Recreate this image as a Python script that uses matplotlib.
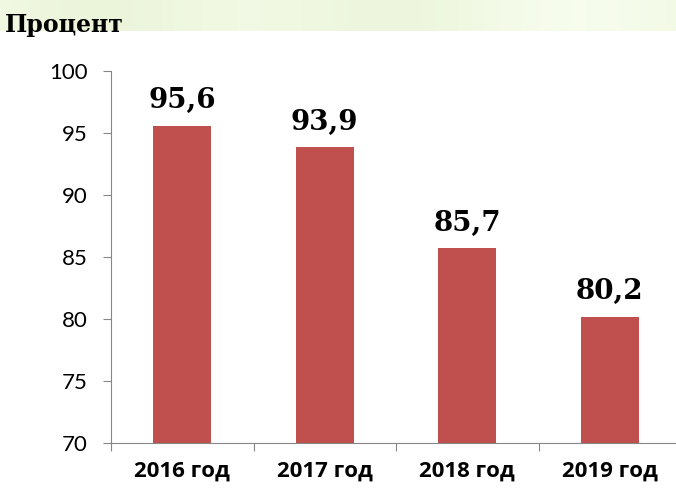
import matplotlib
matplotlib.use("Agg")
import matplotlib.pyplot as plt
import numpy as np

categories = ["2016 год", "2017 год", "2018 год", "2019 год"]
values = [95.6, 93.9, 85.7, 80.2]
value_labels = ["95,6", "93,9", "85,7", "80,2"]
yticks = [70, 75, 80, 85, 90, 95, 100]
title = "Процент"

fig = plt.figure(figsize=(6.76, 4.88), dpi=100)
fig.patch.set_facecolor("white")

# pale green textured strip at the top
bg = fig.add_axes([0, 1 - 31/488, 1, 31/488])
x = np.linspace(0, 1, 400)
c1 = np.array([0.97, 0.99, 0.93])
c2 = np.array([0.92, 0.96, 0.85])
w = 0.5 + 0.5*np.sin(x*9.0)*np.cos(x*4.0)
img = (c1[None, :]*(1-w[:, None]) + c2[None, :]*w[:, None])[None, :, :]
bg.imshow(img, aspect="auto", extent=[0, 1, 0, 1])
bg.set_axis_off()

ax = fig.add_axes([111/676, 1 - 443/488, 570/676, (443-71)/488])
pos = np.arange(len(categories))
ax.bar(pos, values, width=0.41, color="#c0504d", zorder=2)
ax.set_ylim(70, 100)
ax.set_xlim(-0.5, 3.5)
ax.set_yticks(yticks)
ax.set_yticklabels([str(v) for v in yticks], fontsize=16, family="Lato")
ax.set_xticks(np.arange(-0.5, 4.0, 1.0))
ax.set_xticklabels([])
ax.set_xticks(pos, minor=True)
ax.set_xticklabels(categories, minor=True, fontsize=16, fontweight="bold", family="Open Sans")
ax.tick_params(axis="x", which="minor", length=0, pad=13)
ax.tick_params(axis="x", which="major", length=6, color="#868686")
ax.tick_params(axis="y", length=6, color="#868686", pad=11)
for s in ["top", "right"]:
    ax.spines[s].set_visible(False)
for s in ["left", "bottom"]:
    ax.spines[s].set_color("#868686")
ax.set_facecolor("none")

for p, v, lab in zip(pos, values, value_labels):
    ax.annotate(lab, (p, v), xytext=(0, 8), textcoords="offset points",
                ha="center", va="bottom", fontsize=20, fontweight="bold",
                family="DejaVu Serif")

fig.text(5/676, 1 - 25/488, title, fontsize=17, fontweight="bold",
         family="DejaVu Serif", va="center", ha="left")

fig.savefig("out.png", dpi=100)
